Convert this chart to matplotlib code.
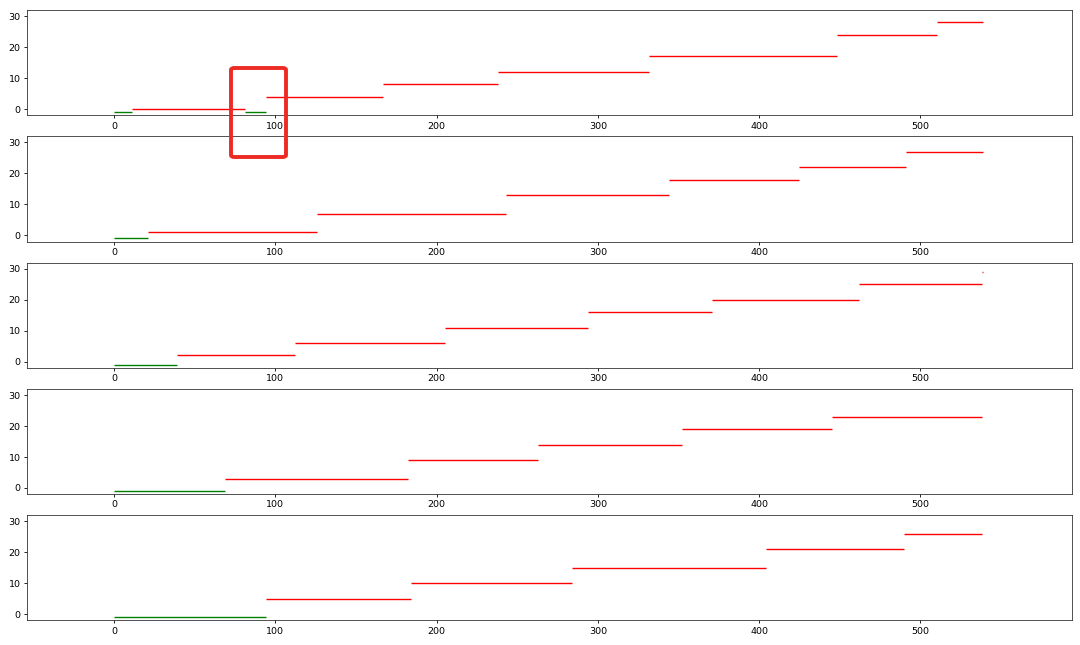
import matplotlib
matplotlib.use('Agg')
import matplotlib.pyplot as plt
from matplotlib.patches import FancyBboxPatch

# lịch trình 5 máy: (bắt đầu, kết thúc) và số thứ tự công việc
m1_start = [11, 94, 167, 238, 332, 448, 510]
m1_end = [81, 167, 238, 332, 448, 510, 539]
m1_job = [0, 4, 8, 12, 17, 24, 28]
m1_idle = [(0, 11), (81, 94)]

m2_start = [21, 126, 243, 344, 425, 491]
m2_end = [126, 243, 344, 425, 491, 539]
m2_job = [1, 7, 13, 18, 22, 27]
m2_idle = [(0, 21)]

m3_start = [39, 112, 205, 294, 371, 462, 538]
m3_end = [112, 205, 294, 371, 462, 538, 539]
m3_job = [2, 6, 11, 16, 20, 25, 29]
m3_idle = [(0, 39)]

m4_start = [69, 182, 263, 352, 445]
m4_end = [182, 263, 352, 445, 538]
m4_job = [3, 9, 14, 19, 23]
m4_idle = [(0, 69)]

m5_start = [94, 184, 284, 404, 490]
m5_end = [184, 284, 404, 490, 538]
m5_job = [5, 10, 15, 21, 26]
m5_idle = [(0, 94)]

machines = [
    (m1_start, m1_end, m1_job, m1_idle),
    (m2_start, m2_end, m2_job, m2_idle),
    (m3_start, m3_end, m3_job, m3_idle),
    (m4_start, m4_end, m4_job, m4_idle),
    (m5_start, m5_end, m5_job, m5_idle),
]

fig, axes = plt.subplots(5, 1, figsize=(10.8, 6.45), dpi=100)
fig.subplots_adjust(left=0.025, right=0.9926, top=0.9845, bottom=0.038, hspace=0.2)

for ax, (start, end, job, idle) in zip(axes, machines):
    # thời gian chờ (màu xanh)
    for s, e in idle:
        ax.hlines(-1, s, e, colors='green', linewidth=1.0)
    # các công việc (màu đỏ)
    ax.hlines(job, start, end, colors='red', linewidth=1.0)
    ax.set_xlim(-54, 594)
    ax.set_ylim(-2, 32)
    ax.set_yticks([0, 10, 20, 30])
    ax.tick_params(labelsize=6.8, length=2.5, width=0.6, pad=2)
    for sp in ax.spines.values():
        sp.set_linewidth(0.6)
        sp.set_color('#333333')

# khung đánh dấu màu đỏ
W, H = 1080, 645
box = FancyBboxPatch((231 / W, 1 - 157 / H), 55 / W, 89 / H,
                     boxstyle='round,pad=0,rounding_size=0.003',
                     transform=fig.transFigure, fill=False,
                     edgecolor='#ec2b24', linewidth=2.8, clip_on=False)
fig.patches.append(box)

plt.savefig('out.png', dpi=100)
